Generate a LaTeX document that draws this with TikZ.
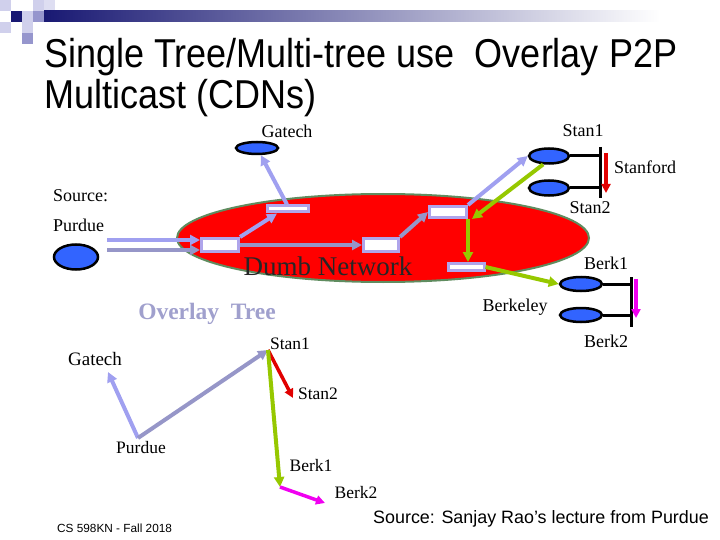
\documentclass[tikz,border=0pt]{standalone}
\usepackage{fontspec}
\setmainfont{Liberation Serif}
\setsansfont{Liberation Sans}
\usepackage{tikz}
\usetikzlibrary{shapes.geometric, arrows.meta, positioning, calc}
\definecolor{navy}{RGB}{25,25,115}
\definecolor{sqlight}{RGB}{208,208,236}
\definecolor{sqmid}{RGB}{150,150,205}
\definecolor{netred}{RGB}{255,0,0}
\definecolor{netrim}{RGB}{95,140,95}
\definecolor{hostblue}{RGB}{50,100,255}
\definecolor{lavlight}{RGB}{160,160,240}
\definecolor{lavgray}{RGB}{150,150,200}
\definecolor{lavbox}{RGB}{175,165,235}
\definecolor{treegreen}{RGB}{150,200,0}
\definecolor{treered}{RGB}{225,0,0}
\definecolor{treemag}{RGB}{240,0,240}
\definecolor{overlaytxt}{RGB}{160,160,205}
\tikzset{
  host/.style={ellipse, draw=black, fill=hostblue, line width=2.5pt, inner sep=0pt},
  router/.style={rectangle, draw=lavbox, fill=white, line width=3pt, inner sep=0pt},
  lbl/.style={inner sep=0pt, font=\fontsize{18}{20}\selectfont},
  treelbl/.style={inner sep=0pt, font=\fontsize{17.5}{20}\selectfont},
  lavarrow/.style={-{Triangle[length=10pt,width=10pt]}, line width=4pt, color=lavlight},
  grayarrow/.style={-{Triangle[length=10pt,width=10pt]}, line width=4pt, color=lavgray},
  greenarrow/.style={-{Triangle[length=10pt,width=10pt]}, line width=4pt, color=treegreen},
  redarrow/.style={-{Triangle[length=9pt,width=9pt]}, line width=3.5pt, color=treered},
  magarrow/.style={-{Triangle[length=9pt,width=9pt]}, line width=3.5pt, color=treemag},
  bus/.style={line width=3pt, color=black}
}
\begin{document}
\begin{tikzpicture}[x=1pt, y=-1pt]
  \useasboundingbox (0,0) rectangle (720,540);

  % Corner squares and header bar
  \fill[sqlight] (0,0) rectangle ++(11,11);
  \fill[sqlight] (33,0) rectangle ++(11,11);
  \fill[sqlight!70] (44,0) rectangle ++(11,11);
  \fill[navy] (11,11) rectangle ++(11,11);
  \fill[sqlight] (22,11) rectangle ++(11,11);
  \fill[sqmid] (33,11) rectangle ++(11,11);
  \fill[sqlight] (0,22) rectangle ++(11,11);
  \fill[sqlight] (22,22) rectangle ++(11,11);
  \fill[sqmid] (22,33) rectangle ++(11,11);
  \shade[left color=navy, right color=white] (44,11) rectangle (660,22);

  % Title
  \node[anchor=base west, inner sep=0pt, font=\sffamily\fontsize{36}{40}\selectfont] (title1) at (44,68) {\scalebox{1}[1.12]{Single Tree/Multi-tree use\ \ Overlay P2P}};
  \node[anchor=base west, inner sep=0pt, font=\sffamily\fontsize{36}{40}\selectfont] (title2) at (44,109) {\scalebox{1}[1.12]{Multicast (CDNs)}};

  % Dumb network
  \node[ellipse, draw=netrim, fill=netred, line width=2pt, minimum width=412pt, minimum height=88pt, inner sep=0pt] (net) at (383,238) {};
  \node[inner sep=0pt, text=black!85, font=\fontsize{27}{30}\selectfont] (netlbl) at (328,266) {Dumb Network};

  % Routers
  \node[router, minimum width=37pt, minimum height=13pt] (r1) at (220,245) {};
  \node[router, minimum width=41pt, minimum height=6pt] (r2) at (288,209) {};
  \node[router, minimum width=35pt, minimum height=13pt] (r3) at (381,245) {};
  \node[router, minimum width=37pt, minimum height=11pt] (r4) at (448,212) {};
  \node[router, minimum width=36pt, minimum height=7pt] (r5) at (466,267) {};

  % Hosts
  \node[host, minimum width=42pt, minimum height=12pt] (gatech) at (257,148) {};
  \node[host, minimum width=44pt, minimum height=25pt] (purdue) at (76,257) {};
  \node[host, minimum width=40pt, minimum height=15pt] (stanA) at (549,156) {};
  \node[host, minimum width=40pt, minimum height=15pt] (stanB) at (549,188) {};
  \node[host, minimum width=42pt, minimum height=14pt] (berkA) at (581,284) {};
  \node[host, minimum width=42pt, minimum height=14pt] (berkB) at (581,315) {};

  % Labels near the network
  \node[lbl] (gatechlbl) at (287,131) {Gatech};
  \node[lbl] (stanAlbl) at (583,131) {Stan1};
  \node[lbl, anchor=west] (stanfordlbl) at (614,167) {Stanford};
  \node[lbl] (stanBlbl) at (590,208) {Stan2};
  \node[lbl, anchor=west] (sourcelbl) at (53,196) {Source:};
  \node[lbl, anchor=west] (purduelbl) at (53,225) {Purdue};
  \node[lbl] (berkAlbl) at (606,263) {Berk1};
  \node[lbl] (berkeleylbl) at (515,307) {Berkeley};
  \node[lbl] (berkBlbl) at (606,341) {Berk2};

  % LAN buses
  \coordinate (stanbusT) at (600,147);
  \coordinate (stanbusB) at (600,198);
  \draw[bus] (stanbusT) -- (stanbusB);
  \draw[bus] (stanA.east) -- (stanA.east -| stanbusT);
  \draw[bus] (stanB.east) -- (stanB.east -| stanbusT);
  \coordinate (stanflowT) at (606,153);
  \coordinate (stanflowB) at (606,193);
  \draw[redarrow] (stanflowT) -- (stanflowB);
  \coordinate (berkbusT) at (631,277);
  \coordinate (berkbusB) at (631,327);
  \draw[bus] (berkbusT) -- (berkbusB);
  \draw[bus] (berkA.east) -- (berkA.east -| berkbusT);
  \draw[bus] (berkB.east) -- (berkB.east -| berkbusT);
  \coordinate (berkflowT) at (636,279);
  \coordinate (berkflowB) at (636,318);
  \draw[magarrow] (berkflowT) -- (berkflowB);

  % Underlay paths
  \coordinate (srcA) at (107,240);
  \coordinate (srcB) at (107,250);
  \draw[lavarrow] (srcA) -- (srcA -| r1.west);
  \draw[grayarrow] (srcB) -- (srcB -| r1.west);
  \draw[lavarrow] (r1.north east) -- ($(r2.south)+(-11,0)$);
  \draw[lavarrow] ([xshift=-1pt]r2.north) -- (gatech);
  \draw[grayarrow] (r1.east) -- (r3.west);
  \draw[grayarrow] (r3.north east) -- (r4.west);
  \draw[lavarrow] (r4.north east) -- (stanA.west);
  \draw[greenarrow] (stanA.-125) -- ([xshift=4pt]r4.south east);
  \draw[greenarrow] (r4.south east) -- (r4.south east |- r5.north);
  \draw[greenarrow] (r5.east) -- (berkA.west);

  % Overlay tree
  \node[inner sep=0pt, text=overlaytxt, font=\bfseries\fontsize{23.5}{26}\selectfont] (overlaylbl) at (207,314) {Overlay\ \ Tree};
  \coordinate (oPurdue) at (138,438);
  \coordinate (oGatech) at (108,372);
  \coordinate (oStanA) at (268,350);
  \coordinate (oStanB) at (293,398);
  \coordinate (oBerkA) at (280,487);
  \coordinate (oBerkB) at (325,503);
  \draw[lavarrow] (oPurdue) -- (oGatech);
  \draw[grayarrow] (oPurdue) -- (oStanA);
  \draw[redarrow] (oStanA) -- (oStanB);
  \draw[greenarrow] (oStanA) -- (oBerkA);
  \draw[magarrow] (oBerkA) -- (oBerkB);
  \node[treelbl, font=\fontsize{19}{20}\selectfont] (oGatechlbl) at (95,359) {Gatech};
  \node[treelbl] (oStanAlbl) at (290,344) {Stan1};
  \node[treelbl] (oStanBlbl) at (318,394) {Stan2};
  \node[treelbl] (oPurduelbl) at (141,448) {Purdue};
  \node[treelbl] (oBerkAlbl) at (311,466) {Berk1};
  \node[treelbl] (oBerkBlbl) at (356,493) {Berk2};

  % Footer
  \node[anchor=west, inner sep=0pt, font=\sffamily\fontsize{11.8}{13}\selectfont] (course) at (57,528) {CS 598KN - Fall 2018};
  \node[anchor=west, inner sep=0pt, font=\sffamily\fontsize{17.9}{20}\selectfont] (credit) at (373,519) {Source: Sanjay Rao’s lecture from Purdue};
\end{tikzpicture}
\end{document}
